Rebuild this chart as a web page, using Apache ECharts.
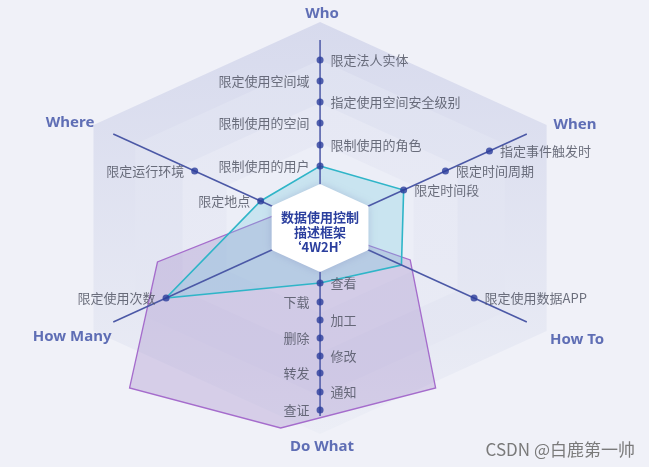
<!DOCTYPE html>
<html>
<head>
<meta charset="utf-8">
<title>数据使用控制描述框架 4W2H</title>
<script src="https://cdn.jsdelivr.net/npm/echarts@6/dist/echarts.min.js"></script>
<style>
  html, body { margin: 0; padding: 0; background: #f0f1f8; }
  #main { width: 649px; height: 467px; }
</style>
</head>
<body>
<div id="main"></div>
<script>
// 六个维度（顺时针，从上方开始）
const dims = ['Who', 'When', 'How To', 'Do What', 'How Many', 'Where'];
const dimAngles = [90, 30, -30, -90, 210, 150];

// 每个维度上的控制项及其半径位置（由内向外）
const whoItems = ['限制使用的用户', '限制使用的角色', '限制使用的空间', '指定使用空间安全级别', '限定使用空间域', '限定法人实体'];
const whoLevels = [62, 83, 105, 126, 147, 168];
const whenItems = ['限定时间段', '限定时间周期', '指定事件触发时'];
const whenLevels = [76, 114, 154];
const howToItems = ['限定使用数据APP'];
const howToLevels = [140];
const doWhatItems = ['查看', '下载', '加工', '删除', '修改', '转发', '通知', '查证'];
const doWhatLevels = [55, 74, 92, 110, 128, 145, 164, 182];
const howManyItems = ['限定使用次数'];
const howManyLevels = [140];
const whereItems = ['限定地点', '限定运行环境'];
const whereLevels = [54, 114];

// 青色多边形：各维度上的取值
const tealValues = [62, 76, 74, 55, 140, 54];
// 紫色区域（Do What 范围）的顶点
const purpleShape = [[-128, -34], [-150, -160], [-31, -200], [91, -160], [71, -32], [-33, 14]];

const axisLength = 188;
const centerTitle = '数据使用控制\n描述框架\n‘4W2H’';

// 样式
const bgLayers = [
  { r: 206, top: '#d7daed', bottom: '#eceef6' },
  { r: 168, top: '#dfe2f1', bottom: '#e6e8f3' },
  { r: 125, top: '#e6e8f4', bottom: '#e9ebf5' },
  { r: 85, top: '#eceef7', bottom: '#eceef7' }
];
const nameOffsets = [[2, -14], [35, -3], [37, 12], [2, 19], [-28, 9], [-30, -5]];
const cjkFont = '"Noto Sans CJK SC", "Noto Sans", sans-serif';

const toXY = (r, deg) => {
  const a = deg * Math.PI / 180;
  return [r * Math.cos(a), r * Math.sin(a)];
};

const itemsByDim = [
  [whoItems, whoLevels],
  [whenItems, whenLevels],
  [howToItems, howToLevels],
  [doWhatItems, doWhatLevels],
  [howManyItems, howManyLevels],
  [whereItems, whereLevels]
];

const labelSide = (d, i) => {
  if (d === 0) return i % 2 === 0 ? 'left' : 'right';
  if (d === 3) return i % 2 === 0 ? 'right' : 'left';
  return (d === 4 || d === 5) ? 'left' : 'right';
};

const pointData = [];
itemsByDim.forEach(([names, levels], d) => {
  names.forEach((name, i) => {
    pointData.push({
      name: name,
      value: toXY(levels[i], dimAngles[d]),
      label: { position: labelSide(d, i) }
    });
  });
});

const hexPoints = (api, r) => dimAngles.map((deg) => api.coord(toXY(r, deg)));

const chart = echarts.init(document.getElementById('main'));

chart.setOption({
  backgroundColor: '#f0f1f8',
  animation: false,
  grid: { left: 0, right: 0, top: 0, bottom: 0 },
  xAxis: { type: 'value', min: -252, max: 259, show: false },
  yAxis: { type: 'value', min: -239, max: 228, show: false },
  graphic: [
    {
      type: 'text',
      right: 14,
      bottom: 9,
      style: { text: 'CSDN @白鹿第一帅', fill: '#7a7a7a', font: '17px ' + cjkFont }
    }
  ],
  series: [
    {
      // 背景六边形
      type: 'custom',
      z: 1,
      silent: true,
      data: bgLayers.map((l) => l.r),
      renderItem: (params, api) => {
        const layer = bgLayers[params.dataIndex];
        return {
          type: 'polygon',
          shape: { points: hexPoints(api, api.value(0)) },
          style: {
            fill: new echarts.graphic.LinearGradient(0, 0, 0, 1, [
              { offset: 0, color: layer.top },
              { offset: 1, color: layer.bottom }
            ])
          }
        };
      }
    },
    {
      // 紫色区域
      type: 'custom',
      z: 2,
      silent: true,
      data: [0],
      renderItem: (params, api) => ({
        type: 'polygon',
        shape: { points: purpleShape.map((p) => api.coord(p)) },
        style: { fill: 'rgba(160,138,200,0.33)', stroke: '#a56ccc', lineWidth: 1.3 }
      })
    },
    {
      // 青色多边形
      type: 'custom',
      z: 3,
      silent: true,
      data: [0],
      renderItem: (params, api) => ({
        type: 'polygon',
        shape: { points: tealValues.map((v, i) => api.coord(toXY(v, dimAngles[i]))) },
        style: { fill: 'rgba(110,205,222,0.28)', stroke: '#2fb5c8', lineWidth: 1.6 }
      })
    },
    {
      // 坐标轴线
      type: 'custom',
      z: 4,
      silent: true,
      data: dimAngles,
      renderItem: (params, api) => {
        const p0 = api.coord([0, 0]);
        const p1 = api.coord(toXY(axisLength, api.value(0)));
        return {
          type: 'line',
          shape: { x1: p0[0], y1: p0[1], x2: p1[0], y2: p1[1] },
          style: { stroke: '#4b58a6', lineWidth: 1.5 }
        };
      }
    },
    {
      // 中心白色六边形与标题
      type: 'custom',
      z: 5,
      silent: true,
      data: [44],
      renderItem: (params, api) => {
        const c = api.coord([0, 0]);
        return {
          type: 'group',
          children: [
            {
              type: 'polygon',
              shape: { points: hexPoints(api, api.value(0)) },
              style: { fill: '#ffffff', shadowBlur: 8, shadowColor: 'rgba(120,130,180,0.35)' }
            },
            {
              type: 'text',
              x: c[0],
              y: c[1] + 4,
              style: {
                text: centerTitle,
                align: 'center',
                verticalAlign: 'middle',
                fill: '#2b3f9e',
                font: 'bold 13px ' + cjkFont,
                lineHeight: 15
              }
            }
          ]
        };
      }
    },
    {
      // 控制项
      type: 'scatter',
      z: 6,
      symbolSize: 7,
      itemStyle: { color: '#2b3c9b' },
      label: {
        show: true,
        formatter: '{b}',
        distance: 7,
        color: '#4a4d5c',
        fontSize: 13,
        fontFamily: '"Noto Sans CJK SC", sans-serif'
      },
      data: pointData
    },
    {
      // 维度名称
      type: 'scatter',
      z: 6,
      symbolSize: 0,
      label: {
        show: true,
        position: 'inside',
        formatter: '{b}',
        color: '#3b4ea4',
        fontSize: 15,
        fontWeight: 'bold',
        fontFamily: '"Noto Sans", sans-serif'
      },
      data: dims.map((name, d) => ({
        name: name,
        value: toXY(200, dimAngles[d]),
        label: { offset: nameOffsets[d] }
      }))
    }
  ]
});
</script>
</body>
</html>
